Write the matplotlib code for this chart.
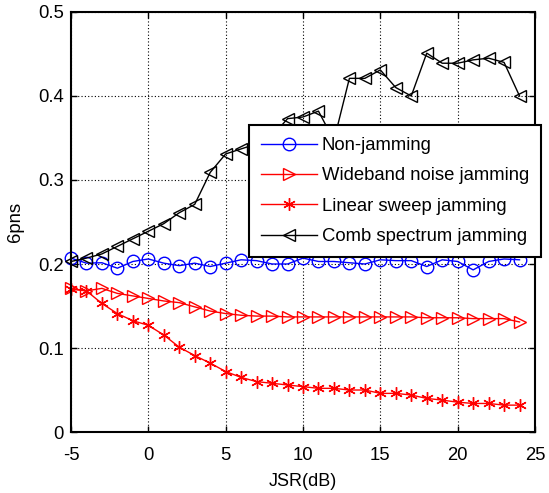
import numpy as np
import matplotlib
matplotlib.use('Agg')
import matplotlib.pyplot as plt

plt.rcParams['font.family'] = ['Liberation Sans', 'DejaVu Sans']
plt.rcParams['axes.unicode_minus'] = False

jsr_db = list(range(-5, 25))

non_jamming = [0.207, 0.201, 0.2015, 0.195, 0.203, 0.206, 0.201, 0.198, 0.201, 0.197,
               0.201, 0.205, 0.204, 0.200, 0.200, 0.207, 0.203, 0.203, 0.2015, 0.200,
               0.205, 0.204, 0.204, 0.197, 0.205, 0.203, 0.193, 0.203, 0.206, 0.205]
wideband_noise = [0.171, 0.168, 0.171, 0.165, 0.162, 0.159, 0.156, 0.154, 0.149, 0.144,
                  0.141, 0.139, 0.138, 0.138, 0.137, 0.137, 0.137, 0.137, 0.137, 0.137,
                  0.137, 0.137, 0.137, 0.136, 0.136, 0.136, 0.135, 0.135, 0.135, 0.131]
linear_sweep = [0.170, 0.168, 0.153, 0.141, 0.1325, 0.127, 0.1155, 0.101, 0.091, 0.082,
                0.072, 0.065, 0.060, 0.058, 0.056, 0.054, 0.052, 0.052, 0.050, 0.050,
                0.046, 0.046, 0.044, 0.040, 0.038, 0.0355, 0.034, 0.034, 0.032, 0.032]
comb_spectrum = [0.203, 0.207, 0.212, 0.221, 0.230, 0.239, 0.248, 0.261, 0.271, 0.309,
                 0.331, 0.337, 0.343, 0.352, 0.373, 0.375, 0.382, 0.347, 0.421, 0.421,
                 0.431, 0.410, 0.400, 0.451, 0.439, 0.439, 0.443, 0.445, 0.440, 0.400]

labels = ['Non-jamming', 'Wideband noise jamming', 'Linear sweep jamming',
          'Comb spectrum jamming']

fig = plt.figure(figsize=(5.49, 4.93), dpi=100)
ax = fig.add_axes([0.1293, 0.1237, 0.8452, 0.852])

common = dict(linewidth=1.0, markersize=9, markeredgewidth=1.0,
              markerfacecolor='none', clip_on=False)
ax.plot(jsr_db, non_jamming, '-o', color='#0000ff', label=labels[0], **common)
ax.plot(jsr_db, wideband_noise, '->', color='#ff0000', label=labels[1], **common)
# asterisk marker: three crossing strokes
ax.plot(jsr_db, linear_sweep, '-', marker=(6, 2, 0), color='#ff0000',
        label=labels[2], **common)
ax.plot(jsr_db, comb_spectrum, '-<', color='black', label=labels[3], **common)

ax.set_xlim(-5, 25)
ax.set_ylim(0, 0.5)
ax.set_xticks(np.arange(-5, 26, 5))
ax.set_yticks(np.arange(0, 0.51, 0.1))
ax.set_yticklabels(['0', '0.1', '0.2', '0.3', '0.4', '0.5'])
ax.grid(True, color='black', linestyle=(0, (1, 2)), linewidth=0.8)
ax.tick_params(direction='in', top=True, right=True, length=4, width=1,
               labelsize=13.3)
ax.tick_params(axis='x', pad=11)
ax.tick_params(axis='y', pad=5)
for sp in ax.spines.values():
    sp.set_linewidth(1.5)

ax.set_xlabel('JSR(dB)', fontsize=13, labelpad=6)
ax.set_ylabel('6pns', fontsize=13.3, labelpad=10)

leg = ax.legend(loc='upper left', bbox_to_anchor=(0.4536, 0.7465),
                bbox_transform=fig.transFigure, fontsize=13.3, fancybox=False,
                framealpha=1, edgecolor='black', handlelength=3.0,
                handletextpad=0.27, borderpad=0.66, labelspacing=0.72,
                borderaxespad=0)
leg.get_frame().set_linewidth(1.5)

fig.savefig('out.png', dpi=100)
